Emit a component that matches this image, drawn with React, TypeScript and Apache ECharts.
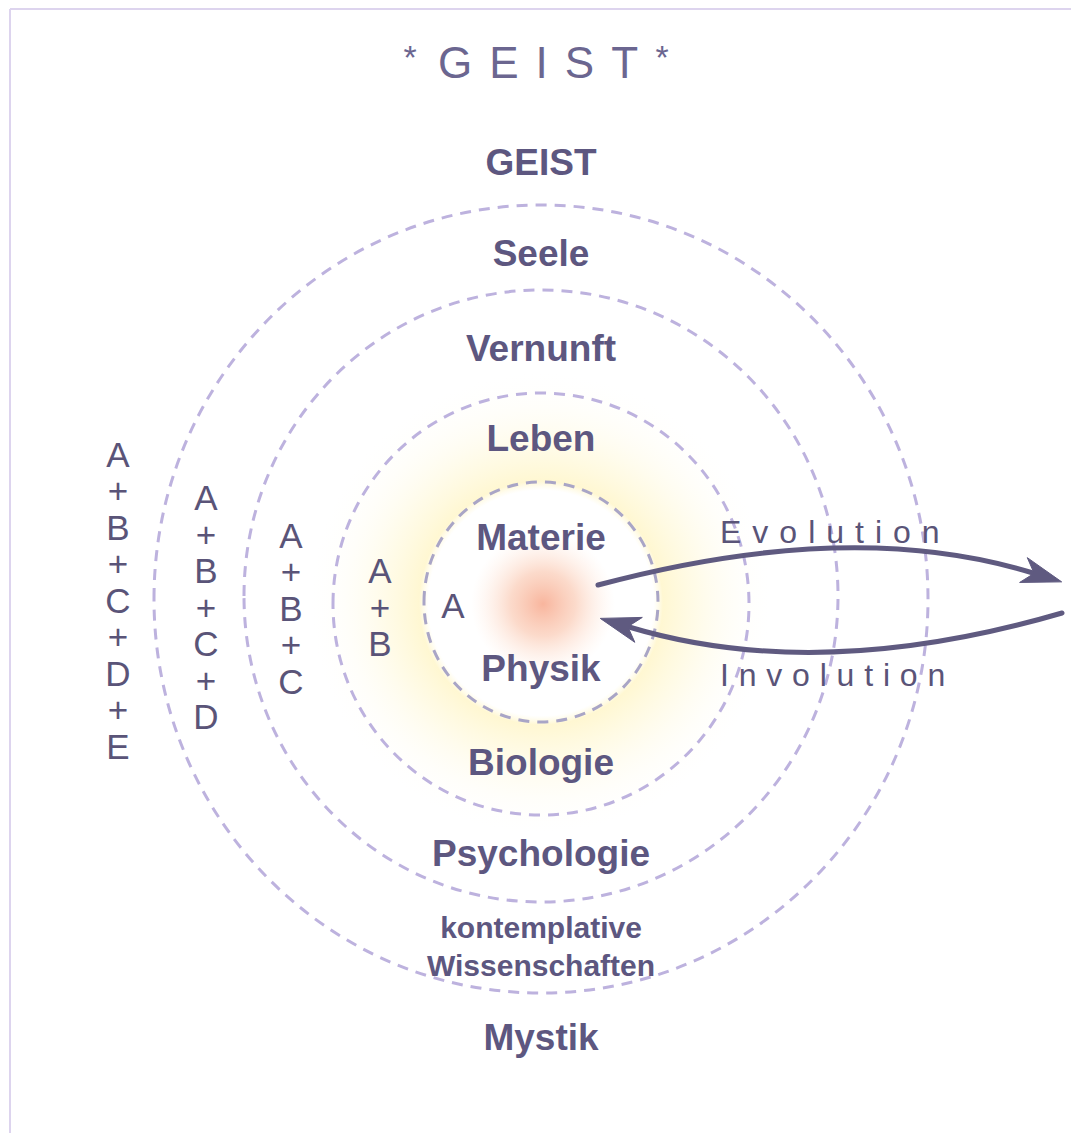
import React, { useEffect, useRef } from "react";
import * as echarts from "echarts";

// ---- content ----
const TITLE_CHARS = ["G", "E", "I", "S", "T"];
const LAYER_LABELS = ["GEIST", "Seele", "Vernunft", "Leben", "Materie", "Physik", "Biologie", "Psychologie", "kontemplative", "Wissenschaften", "Mystik"];
const SUM_COLUMNS = [
  ["A", "B", "C", "D", "E"],
  ["A", "B", "C", "D"],
  ["A", "B", "C"],
  ["A", "B"],
  ["A"],
];
const ARROW_LABELS = ["Evolution", "Involution"];

// ---- layout ----
const W = 1071;
const H = 1133;
const CX = 541;
const RING_RX = [117, 208, 297, 387];
const RING_RY = [120, 211, 306, 394];
const RING_CY = [602, 604, 596, 599];
const LABEL_Y = [162, 253, 348, 438, 537, 668, 762, 853, 927, 965, 1037];
const LABEL_SIZE = [37, 37, 37, 37, 37, 37, 37, 37, 30, 30, 37];
const COLUMN_X = [118, 206, 291, 380, 453];
const COLUMN_Y = [600, 607, 608, 607, 605];

const TEXT_COLOR = "#5d5780";
const FAMILY = "'Liberation Sans', Arial, Helvetica, sans-serif";

let measureCtx: CanvasRenderingContext2D | null = null;
function measure(text: string, font: string): number {
  if (!measureCtx) measureCtx = document.createElement("canvas").getContext("2d");
  measureCtx!.font = font;
  return measureCtx!.measureText(text).width;
}

function tracked(text: string, size: number, xLeft: number, y: number, tracking: number, fill: string) {
  const font = `normal ${size}px ${FAMILY}`;
  const els: any[] = [];
  let x = xLeft;
  for (const ch of text.split("")) {
    els.push({
      type: "text",
      x,
      y,
      z: 20,
      style: { text: ch, fontSize: size, fontFamily: FAMILY, fontWeight: "normal", fill, align: "left", verticalAlign: "middle" },
    });
    x += measure(ch, font) + tracking;
  }
  return els;
}

function arrow(p0: number[], cp: number[], notch: number[], headLen: number, halfW: number, color: string) {
  const dx = notch[0] - cp[0];
  const dy = notch[1] - cp[1];
  const len = Math.hypot(dx, dy);
  const d = [dx / len, dy / len];
  const n = [-d[1], d[0]];
  const tip = [notch[0] + d[0] * headLen * 0.75, notch[1] + d[1] * headLen * 0.75];
  const back = [tip[0] - d[0] * headLen, tip[1] - d[1] * headLen];
  return [
    {
      type: "bezierCurve",
      z: 15,
      shape: { x1: p0[0], y1: p0[1], x2: notch[0], y2: notch[1], cpx1: cp[0], cpy1: cp[1] },
      style: { stroke: color, lineWidth: 5, fill: null, lineCap: "round" },
    },
    {
      type: "polygon",
      z: 16,
      shape: {
        points: [
          tip,
          [back[0] + n[0] * halfW, back[1] + n[1] * halfW],
          [tip[0] - d[0] * headLen * 0.72, tip[1] - d[1] * headLen * 0.72],
          [back[0] - n[0] * halfW, back[1] - n[1] * halfW],
        ],
      },
      style: { fill: color, stroke: color, lineWidth: 1 },
    },
  ];
}

export default function App() {
  const ref = useRef<HTMLDivElement>(null);
  useEffect(() => {
    if (!ref.current) return;
    const chart = echarts.init(ref.current, undefined, { renderer: "svg", width: W, height: H });
    const g: any[] = [];

    // frame (top and left edges)
    g.push({ type: "line", z: 1, shape: { x1: 10, y1: 9, x2: W, y2: 9 }, style: { stroke: "#ddd4ee", lineWidth: 2 } });
    g.push({ type: "line", z: 1, shape: { x1: 10, y1: 9, x2: 10, y2: H }, style: { stroke: "#ddd4ee", lineWidth: 2 } });

    // yellow glow around inner ring
    g.push({
      type: "circle",
      z: 2,
      shape: { cx: CX, cy: 603, r: 230 },
      style: {
        fill: new echarts.graphic.RadialGradient(0.5, 0.5, 0.5, [
          { offset: 0, color: "rgba(255,255,255,0)" },
          { offset: 0.49, color: "rgba(255,246,200,0)" },
          { offset: 0.53, color: "rgba(255,242,180,0.6)" },
          { offset: 0.68, color: "rgba(255,245,195,0.38)" },
          { offset: 0.86, color: "rgba(255,249,222,0.14)" },
          { offset: 1, color: "rgba(255,252,240,0)" },
        ]),
      },
    });
    // orange core
    g.push({
      type: "circle",
      z: 3,
      shape: { cx: 543, cy: 604, r: 72 },
      style: {
        fill: new echarts.graphic.RadialGradient(0.5, 0.5, 0.5, [
          { offset: 0, color: "rgba(247,168,140,0.85)" },
          { offset: 0.45, color: "rgba(249,188,160,0.55)" },
          { offset: 1, color: "rgba(255,228,210,0)" },
        ]),
      },
    });

    // dashed rings
    RING_RX.forEach((rx, i) => {
      g.push({
        type: "ellipse",
        z: 5,
        shape: { cx: CX, cy: RING_CY[i], rx, ry: RING_RY[i] },
        style: {
          fill: null,
          stroke: i === 0 ? "#a9a5c6" : "#bdb2de",
          lineWidth: 3,
          lineDash: [11, 8],
        },
      });
    });

    // title * G E I S T *
    const titleSize = 44;
    g.push(...tracked(TITLE_CHARS.join(""), titleSize, 438, 62, 17, "#6b6690"));
    g.push({ type: "text", x: 410, y: 57, z: 20, style: { text: "*", fontSize: 34, fontFamily: FAMILY, fill: "#6b6690", align: "center", verticalAlign: "middle" } });
    g.push({ type: "text", x: 662, y: 57, z: 20, style: { text: "*", fontSize: 34, fontFamily: FAMILY, fill: "#6b6690", align: "center", verticalAlign: "middle" } });

    // layer labels
    LAYER_LABELS.forEach((t, i) => {
      g.push({
        type: "text",
        x: CX,
        y: LABEL_Y[i],
        z: 20,
        style: { text: t, fontSize: LABEL_SIZE[i], fontWeight: "bold", fontFamily: FAMILY, fill: TEXT_COLOR, align: "center", verticalAlign: "middle" },
      });
    });

    // A + B + ... columns
    SUM_COLUMNS.forEach((col, i) => {
      g.push({
        type: "text",
        x: COLUMN_X[i],
        y: COLUMN_Y[i],
        z: 20,
        style: {
          text: col.join("\n+\n"),
          fontSize: 35,
          fontFamily: FAMILY,
          lineHeight: 36.5,
          fill: "#5a5478",
          align: "center",
          verticalAlign: "middle",
        },
      });
    });

    // arrows
    const arrowColor = "#5f5a80";
    g.push(...arrow([598, 585], [852, 517], [1033, 573], 40, 13, arrowColor));
    g.push(...arrow([1062, 613], [819, 684], [629, 627], 40, 13, arrowColor));

    // arrow labels
    g.push(...tracked(ARROW_LABELS[0], 32, 720, 532, 11, "#5a5478"));
    g.push(...tracked(ARROW_LABELS[1], 32, 720, 675, 9.8, "#5a5478"));

    chart.setOption({ animation: false, backgroundColor: "#ffffff", graphic: { elements: g } });
    return () => chart.dispose();
  }, []);
  return <div ref={ref} style={{ position: "fixed", left: 0, top: 0, width: W, height: H }} />;
}
